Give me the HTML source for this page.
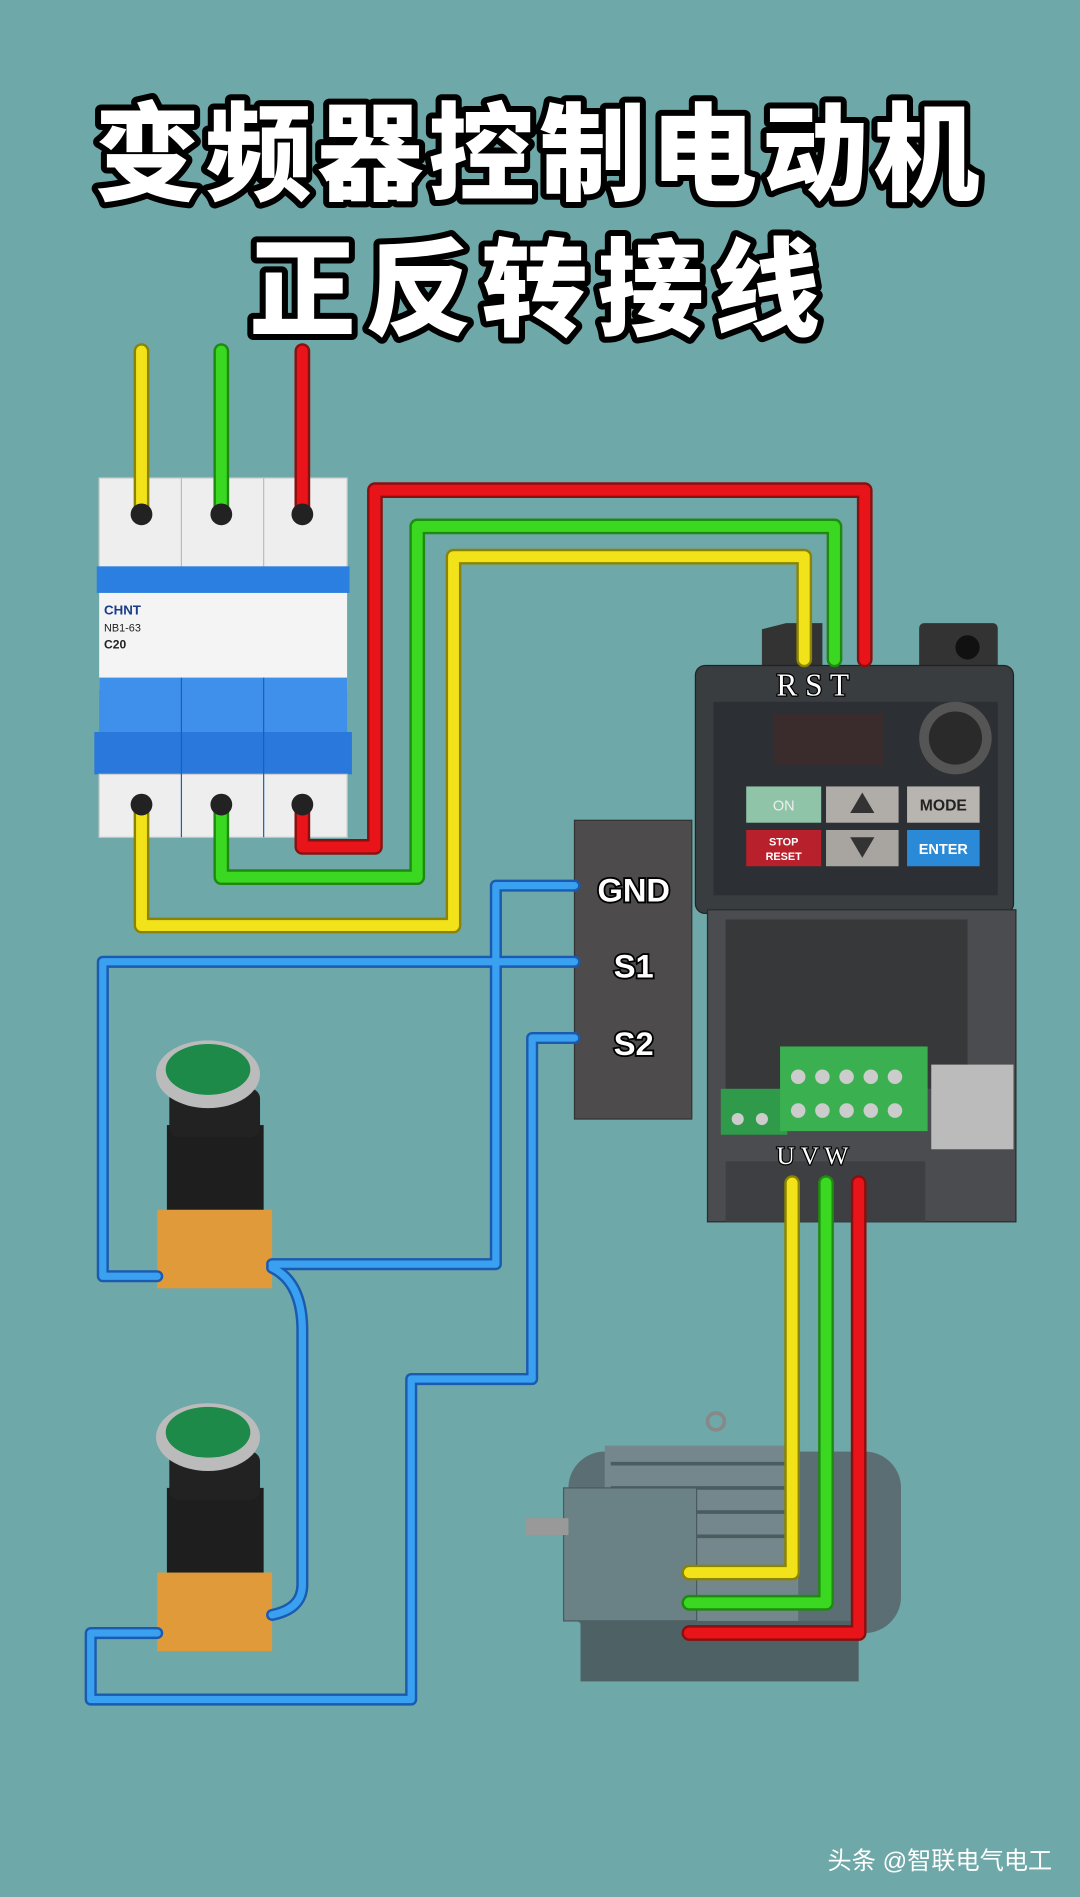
<!DOCTYPE html>
<html><head><meta charset="utf-8"><style>
html,body{margin:0;padding:0;background:#6ea8a8;}
svg{display:block}
</style></head><body>
<svg width="1080" height="1897" viewBox="0 0 893 1568" xmlns="http://www.w3.org/2000/svg">
<rect width="893" height="1568" fill="#6ea8a8"/>
<g font-family="'Liberation Sans','Noto Sans CJK SC',sans-serif" font-weight="900" text-anchor="middle" fill="#fff" stroke="#000" stroke-width="10" paint-order="stroke" stroke-linejoin="round">
<text x="446" y="158" font-size="88" letter-spacing="4">变频器控制电动机</text>
<text x="446" y="270" font-size="88" letter-spacing="8">正反转接线</text>
</g>
<g>
<rect x="82" y="395" width="205" height="75" fill="#eee" stroke="#ccc"/>
<line x1="150" y1="395" x2="150" y2="470" stroke="#bbb"/><line x1="218" y1="395" x2="218" y2="470" stroke="#bbb"/>
<rect x="80" y="468" width="209" height="22" fill="#2a7fe0"/>
<rect x="82" y="490" width="205" height="80" fill="#f4f4f4"/>
<text x="86" y="508" font-size="11" font-family="Liberation Sans" font-weight="bold" fill="#1a3a8a">CHNT</text>
<text x="86" y="522" font-size="9" font-family="Liberation Sans" fill="#222">NB1-63</text>
<text x="86" y="536" font-size="10" font-family="Liberation Sans" font-weight="bold" fill="#222">C20</text>
<rect x="82" y="560" width="205" height="50" fill="#3f90ea"/>
<rect x="78" y="605" width="213" height="35" fill="#2a78dc"/>
<rect x="82" y="640" width="205" height="52" fill="#eee" stroke="#ccc"/>
<line x1="150" y1="560" x2="150" y2="692" stroke="#1a5fb8"/><line x1="218" y1="560" x2="218" y2="692" stroke="#1a5fb8"/>
</g>
<rect x="475" y="678" width="97" height="247" fill="#4d4b4b" stroke="#333"/>
<g font-family="Liberation Sans" font-weight="bold" font-size="27" fill="#fff" stroke="#000" stroke-width="3" paint-order="stroke" text-anchor="middle">
<text x="524" y="745">GND</text><text x="524" y="808">S1</text><text x="524" y="872">S2</text>
</g>
<path d="M630 550 L630 520 L650 515 L680 515 L680 550 Z" fill="#333"/>
<rect x="760" y="515" width="65" height="40" rx="4" fill="#333"/><circle cx="800" cy="535" r="10" fill="#111"/>
<rect x="575" y="550" width="263" height="205" rx="8" fill="#3a3d40" stroke="#222"/>
<rect x="590" y="580" width="235" height="160" fill="#2c2f33"/>
<rect x="640" y="590" width="90" height="42" fill="#3a2c2c"/>
<circle cx="790" cy="610" r="30" fill="#555"/><circle cx="790" cy="610" r="22" fill="#2a2a2a"/>
<rect x="617" y="650" width="62" height="30" fill="#8fc4a8"/>
<text x="648" y="670" font-size="12" fill="#eee" text-anchor="middle" font-family="Liberation Sans">ON</text>
<rect x="683" y="650" width="60" height="30" fill="#b0aca8"/>
<rect x="750" y="650" width="60" height="30" fill="#b8b4b0"/>
<text x="780" y="670" font-size="13" font-weight="bold" fill="#222" text-anchor="middle" font-family="Liberation Sans">MODE</text>
<rect x="617" y="686" width="62" height="30" fill="#b8202c"/>
<text x="648" y="699" font-size="9" font-weight="bold" fill="#fff" text-anchor="middle" font-family="Liberation Sans">STOP</text>
<text x="648" y="711" font-size="9" font-weight="bold" fill="#fff" text-anchor="middle" font-family="Liberation Sans">RESET</text>
<rect x="683" y="686" width="60" height="30" fill="#a8a4a0"/>
<rect x="750" y="686" width="60" height="30" fill="#2a8ad8"/>
<text x="780" y="706" font-size="12" font-weight="bold" fill="#fff" text-anchor="middle" font-family="Liberation Sans">ENTER</text>
<polygon points="713,655 703,672 723,672" fill="#333"/><polygon points="713,709 703,692 723,692" fill="#333"/>
<text x="672" y="575" font-size="26" fill="#fff" stroke="#000" stroke-width="2" paint-order="stroke" text-anchor="middle" font-family="Liberation Serif">R S T</text>
<rect x="585" y="752" width="255" height="258" fill="#4a4c4f" stroke="#2a2a2a"/>
<rect x="600" y="760" width="200" height="140" fill="#36383a"/>
<rect x="770" y="880" width="68" height="70" fill="#bbb"/>
<rect x="596" y="900" width="55" height="38" fill="#2e9a4a"/>
<rect x="645" y="865" width="122" height="70" fill="#3ab050"/>
<g fill="#ccc"><circle cx="660" cy="890" r="6"/><circle cx="680" cy="890" r="6"/><circle cx="700" cy="890" r="6"/><circle cx="720" cy="890" r="6"/><circle cx="740" cy="890" r="6"/><circle cx="660" cy="918" r="6"/><circle cx="680" cy="918" r="6"/><circle cx="700" cy="918" r="6"/><circle cx="720" cy="918" r="6"/><circle cx="740" cy="918" r="6"/><circle cx="610" cy="925" r="5"/><circle cx="630" cy="925" r="5"/></g>
<rect x="600" y="960" width="165" height="50" fill="#3d3f42"/>
<text x="642" y="962" font-size="21" fill="#fff" stroke="#000" stroke-width="2" paint-order="stroke" font-family="Liberation Serif">U V W</text>
<rect x="470" y="1200" width="275" height="150" rx="30" fill="#5a6e74"/>
<rect x="500" y="1195" width="160" height="150" fill="#73878c"/>
<g stroke="#4a5c60" stroke-width="3"><line x1="505" y1="1210" x2="655" y2="1210"/><line x1="505" y1="1230" x2="655" y2="1230"/><line x1="505" y1="1250" x2="655" y2="1250"/><line x1="505" y1="1270" x2="655" y2="1270"/></g>
<rect x="466" y="1230" width="110" height="110" fill="#6a8286" stroke="#4a5a5e"/>
<rect x="435" y="1255" width="35" height="14" fill="#999"/>
<rect x="480" y="1340" width="230" height="50" fill="#4e6266"/>
<circle cx="592" cy="1175" r="7" fill="none" stroke="#888" stroke-width="3"/>
<g id="b1">
<rect x="130" y="1000" width="95" height="65" fill="#e09a3a"/>
<rect x="138" y="930" width="80" height="70" fill="#1e1e1e"/>
<rect x="140" y="900" width="75" height="40" rx="8" fill="#222"/>
<ellipse cx="172" cy="888" rx="43" ry="28" fill="#bbb"/>
<ellipse cx="172" cy="884" rx="35" ry="21" fill="#1e8a4a"/>
</g>
<use href="#b1" transform="translate(0,300)"/>
<g fill="none" stroke-linejoin="round" stroke-linecap="round">
<g stroke-width="13">
<path d="M117 290 V420 M117 672 V765 H375 V460 H665 V545" stroke="#8a8400"/>
<path d="M183 290 V420 M183 668 V725 H345 V435 H690 V545" stroke="#1f8a10"/>
<path d="M250 290 V420 M250 665 V700 H310 V405 H715 V545" stroke="#8a1010"/>
</g>
<g stroke-width="9">
<path d="M117 290 V420 M117 672 V765 H375 V460 H665 V545" stroke="#f2e21a"/>
<path d="M183 290 V420 M183 668 V725 H345 V435 H690 V545" stroke="#3ad820"/>
<path d="M250 290 V420 M250 665 V700 H310 V405 H715 V545" stroke="#e8141a"/>
</g>
<path d="M655 978 V1300 H570" stroke="#8a8400" stroke-width="13"/><path d="M655 978 V1300 H570" stroke="#f2e21a" stroke-width="9"/>
<path d="M683 978 V1325 H570" stroke="#1f8a10" stroke-width="13"/><path d="M683 978 V1325 H570" stroke="#3ad820" stroke-width="9"/>
<path d="M710 978 V1350 H570" stroke="#8a1010" stroke-width="13"/><path d="M710 978 V1350 H570" stroke="#e8141a" stroke-width="9"/>
<g stroke="#1a5ab0" stroke-width="10">
<path d="M475 732 H410 V1045 H225"/><path d="M475 795 H85 V1055 H130"/><path d="M475 858 H440 V1140 H340 V1405 H75 V1350 H130"/><path d="M225 1048 Q250 1060 250 1100 V1310 Q250 1330 225 1335"/>
</g>
<g stroke="#3aa0f0" stroke-width="6">
<path d="M475 732 H410 V1045 H225"/><path d="M475 795 H85 V1055 H130"/><path d="M475 858 H440 V1140 H340 V1405 H75 V1350 H130"/><path d="M225 1048 Q250 1060 250 1100 V1310 Q250 1330 225 1335"/>
</g>
</g>
<g fill="#222"><circle cx="117" cy="425" r="9"/><circle cx="183" cy="425" r="9"/><circle cx="250" cy="425" r="9"/><circle cx="117" cy="665" r="9"/><circle cx="183" cy="665" r="9"/><circle cx="250" cy="665" r="9"/></g>
<text x="870" y="1545" font-size="20" fill="#fff" text-anchor="end" font-family="'Liberation Sans','Noto Sans CJK SC',sans-serif">头条 @智联电气电工</text>
</svg>
</body></html>
